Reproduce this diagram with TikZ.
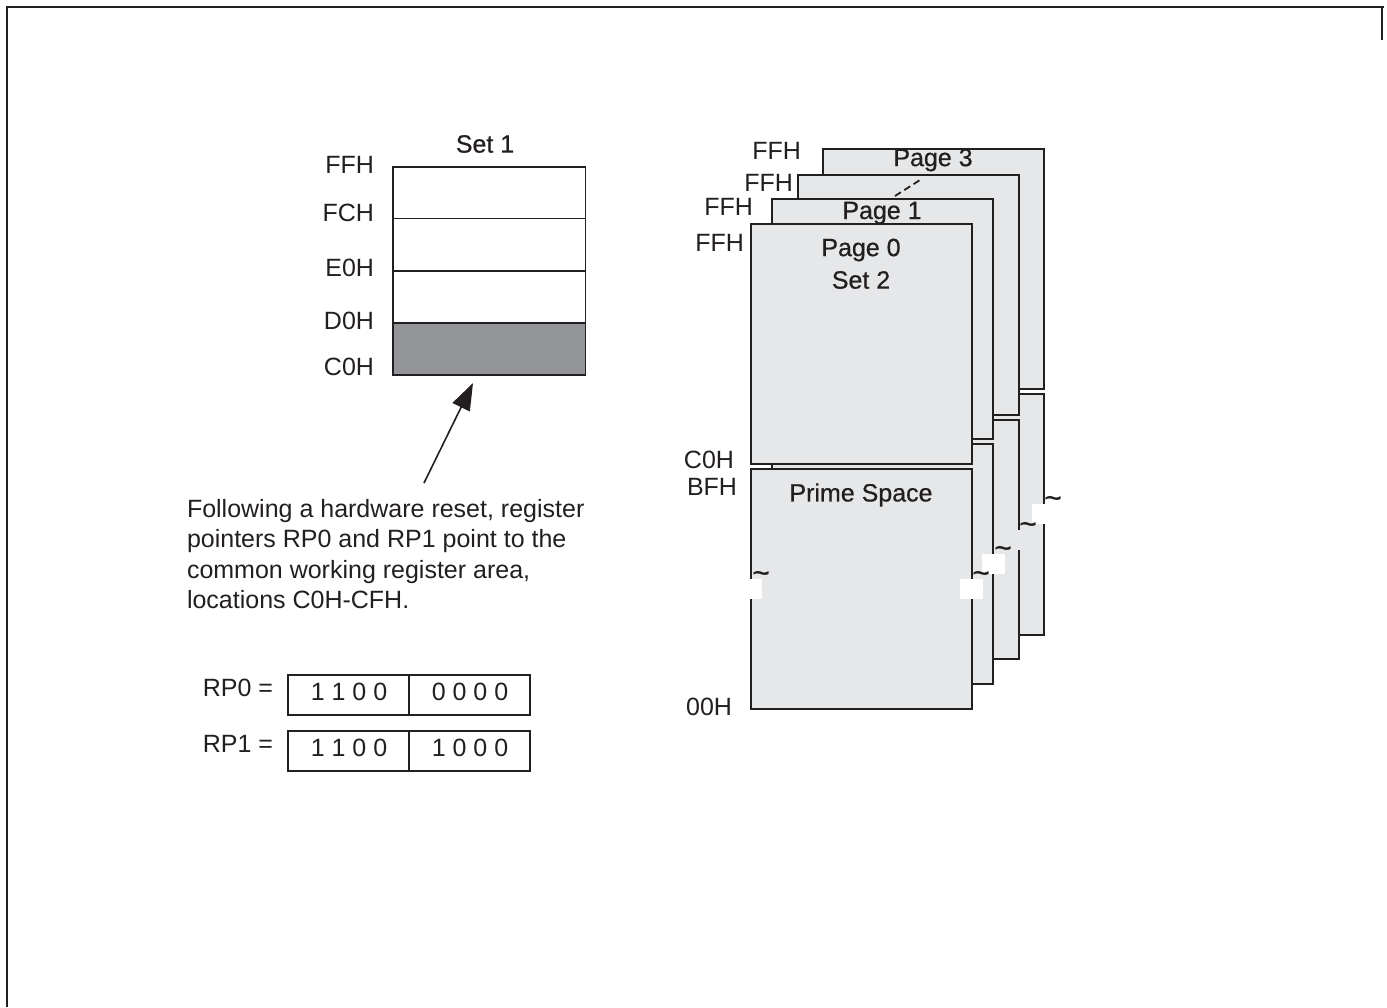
\documentclass[tikz,border=0pt]{standalone}
\usepackage{fontspec}
\setmainfont{Liberation Sans}
\newfontfamily\heavy[FakeBold=0.6]{Liberation Sans}
\usetikzlibrary{arrows.meta}
\definecolor{ink}{HTML}{231F20}
\definecolor{pagegrey}{HTML}{E6E7E8}
\definecolor{midgrey}{HTML}{939598}
\tikzset{
  base/.style={font=\fontsize{25}{30.5}\selectfont,text=ink,inner sep=0pt,outer sep=0pt},
  addr/.style={base,anchor=mid east},
  head/.style={base,font=\fontsize{25}{30.5}\heavy\selectfont},
  tildemark/.style={base,font=\fontsize{30}{30}\heavy\selectfont},
  pagebox/.style={draw=ink,fill=pagegrey,line width=1.8pt},
  regbox/.style={draw=ink,line width=1.6pt},
  patch/.style={fill=white,draw=none}
}
\newcommand{\pg}[5]{% left right top midbottom lowertop/bottom given separately
  \filldraw[pagebox] (#1,#3) rectangle (#2,#3+240);
  \filldraw[pagebox] (#1,#4) rectangle (#2,#5);
}
\begin{document}
\begin{tikzpicture}[x=1pt,y=-1pt]
\useasboundingbox (0,0) rectangle (1387,1007);
% outer frame
\coordinate (fbl) at (7,1007);
\coordinate (ftl) at (7,6.5);
\coordinate (ftr) at (1384,6.5);
\coordinate (frt) at (1381.5,6.5);
\coordinate (frb) at (1381.5,40);
\draw[ink,line width=2pt] (fbl) -- (ftl) -- (ftr);
\draw[ink,line width=2pt] (frt) -- (frb);
% Set 1
\node[head] (set1) at (485,144) {Set 1};
\draw[ink,fill=white,line width=1.6pt] (392.7,166.7) rectangle (585.3,375);
\fill[midgrey] (392.7,322.7) rectangle (585.3,375);
\draw[ink,line width=1.6pt] (392.7,166.7) rectangle (585.3,375);
\draw[ink,line width=1.6pt] (392.7,218.3) -- (585.3,218.3);
\draw[ink,line width=1.6pt] (392.7,270.7) -- (585.3,270.7);
\draw[ink,line width=1.6pt] (392.7,322.7) -- (585.3,322.7);
\node[addr] (a1) at (374,171) {\strut FFH};
\node[addr] (a2) at (374,219) {\strut FCH};
\node[addr] (a3) at (374,274) {\strut E0H};
\node[addr] (a4) at (374,327) {\strut D0H};
\node[addr] (a5) at (374,373) {\strut C0H};
% arrow
\node[base,anchor=north west,align=left] (note) at (187,499) {Following a hardware reset, register\\pointers RP0 and RP1 point to the\\common working register area,\\locations C0H-CFH.};
\coordinate (atail) at (424,483);
\coordinate (atip) at (473,383);
\draw[ink,line width=1.6pt,-{Triangle[length=27pt,width=19pt]}] (atail) -- (atip);
% registers
\node[base,anchor=mid east] (rp0) at (273,694) {\strut RP0 =};
\node[base,anchor=mid east] (rp1) at (273,750) {\strut RP1 =};
\draw[regbox] (287.7,674.7) rectangle (530,715);
\draw[regbox] (409,674.7) -- (409,715);
\draw[regbox] (287.7,730.7) rectangle (530,770.7);
\draw[regbox] (409,730.7) -- (409,770.7);
\node[base] (r00) at (349,694) {\strut 1 1 0 0};
\node[base] (r01) at (470,694) {\strut 0 0 0 0};
\node[base] (r10) at (349,750) {\strut 1 1 0 0};
\node[base] (r11) at (470,750) {\strut 1 0 0 0};
% pages, back to front
\pg{822.7}{1043.7}{149.3}{394.3}{634.7}
\node[head] (p3) at (933,160) {Page 3};
\pg{798}{1019.3}{174.7}{420}{659}
\coordinate (d1) at (895,196);
\coordinate (d2) at (920,180);
\pg{772.3}{993.3}{199.3}{444}{684}
\node[head] (p1) at (882,213) {Page 1};
\pg{750.7}{971.7}{224}{469}{709}
\draw[ink,line width=1.8pt,dashed,dash pattern=on 7pt off 4pt] (d1) -- (d2);
\node[head] (p0) at (861,250) {Page 0};
\node[head] (s2) at (861,280) {Set 2};
\node[head] (ps) at (861,495) {Prime Space};
% breaks
\fill[patch] (749,579) rectangle (762,599);
\fill[patch] (960,579) rectangle (983,599);
\fill[patch] (982,554) rectangle (1005,574);
\fill[patch] (1032,504) rectangle (1055,524);
\fill[pagegrey] (1017,530) rectangle (1021,550);
\node[tildemark] (t1) at (761,577) {\textasciitilde};
\node[tildemark] (t2) at (981,577) {\textasciitilde};
\node[tildemark] (t3) at (1003,552) {\textasciitilde};
\node[tildemark] (t4) at (1028,528) {\textasciitilde};
\node[tildemark] (t5) at (1053,502) {\textasciitilde};
% page addresses
\node[addr] (f3) at (801,157) {\strut FFH};
\node[addr] (f2) at (793,189) {\strut FFH};
\node[addr] (f1) at (753,213) {\strut FFH};
\node[addr] (f0) at (744,249) {\strut FFH};
\node[addr] (c0) at (734,466) {\strut C0H};
\node[addr] (bf) at (737,493) {\strut BFH};
\node[addr] (z0) at (732,713) {\strut 00H};
\end{tikzpicture}
\end{document}
